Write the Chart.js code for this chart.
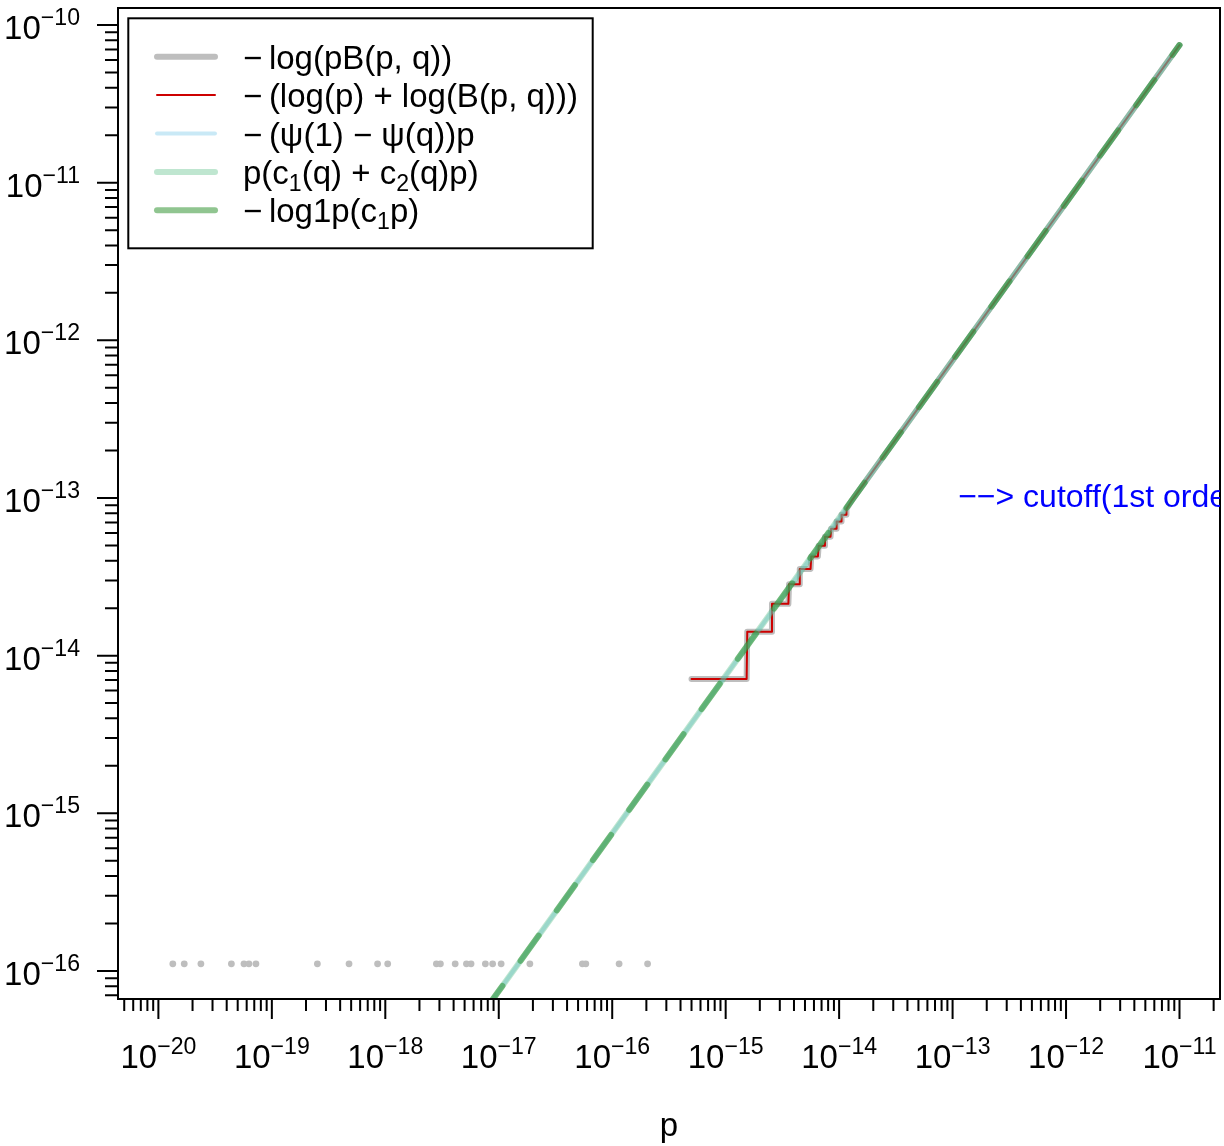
<!DOCTYPE html>
<html>
<head>
<meta charset="utf-8">
<title>log1p cutoff</title>
<script src="https://cdn.jsdelivr.net/npm/chart.js@4.4.1/dist/chart.umd.min.js"></script>
<style>
body { margin: 0; background: #fff; }
#wrap { position: relative; width: 1224px; height: 1146px; }
</style>
</head>
<body>
<div id="wrap"><canvas id="plot"></canvas></div>
<script>
// axis decades (tick labels are 10^e)
var xDecades = [-20, -19, -18, -17, -16, -15, -14, -13, -12, -11];
var yDecades = [-16, -15, -14, -13, -12, -11, -10];
var xLimits = [-20.356, -10.643];   // log10 of the axis ends
var yLimits = [-16.178, -9.892];

// gray isolated values (eps/2) in the lower left
var dotsP = [1.34e-20, 1.69e-20, 2.37e-20, 4.40e-20, 5.68e-20, 6.28e-20, 7.24e-20,
             2.52e-19, 4.79e-19, 8.55e-19, 1.05e-18, 2.82e-18, 3.06e-18, 4.13e-18,
             5.19e-18, 5.70e-18, 7.62e-18, 8.83e-18, 1.05e-17, 1.88e-17, 5.46e-17,
             5.85e-17, 1.15e-16, 2.05e-16];
var dotsY = [1.11e-16, 1.11e-16, 1.11e-16, 1.11e-16, 1.11e-16, 1.11e-16, 1.11e-16,
             1.11e-16, 1.11e-16, 1.11e-16, 1.11e-16, 1.11e-16, 1.11e-16, 1.11e-16,
             1.11e-16, 1.11e-16, 1.11e-16, 1.11e-16, 1.11e-16, 1.11e-16, 1.11e-16,
             1.11e-16, 1.11e-16, 1.11e-16];

// -log(pB(p,q)) and -(log(p)+log(B(p,q))): staircase then straight
var stepP = [5.0e-16, 1.53e-15, 1.55e-15, 2.52e-15, 2.56e-15, 3.57e-15, 3.62e-15,
             4.45e-15, 4.50e-15, 5.60e-15, 5.68e-15, 6.5e-15, 6.6e-15, 7.4e-15,
             7.5e-15, 8.4e-15, 8.5e-15, 9.4e-15, 9.5e-15, 1.04e-14, 1.05e-14,
             1.15e-14, 1.16e-14, 1.3e-14, 1e-13, 1e-12, 1e-11];
var stepY = [7.1e-15, 7.1e-15, 1.42e-14, 1.42e-14, 2.13e-14, 2.13e-14, 2.84e-14,
             2.84e-14, 3.55e-14, 3.55e-14, 4.26e-14, 4.26e-14, 4.97e-14, 4.97e-14,
             5.68e-14, 5.68e-14, 6.39e-14, 6.39e-14, 7.1e-14, 7.1e-14, 7.82e-14,
             7.82e-14, 8.53e-14, 9.7e-14, 7.46e-13, 7.46e-12, 7.46e-11];

// first order approximations (straight line c1*p)
var lineP = [1e-20, 1e-17, 1e-14, 1e-11];
var lineY = [7.46e-20, 7.46e-17, 7.46e-14, 7.46e-11];

var cutoffP = 1.12e-13;
var cutoffY = 1e-13;
var cutoffText = '\u2212\u2212> cutoff(1st order)';

// legend rows: [text, subscript?]
var legendRows = [
  [['\u2212\u2009log(pB(p, q))', 0]],
  [['\u2212\u2009(log(p) + log(B(p, q)))', 0]],
  [['\u2212\u2009(\u03c8(1) \u2212 \u03c8(q))p', 0]],
  [['p(c', 0], ['1', 1], ['(q) + c', 0], ['2', 1], ['(q)p)', 0]],
  [['\u2212\u2009log1p(c', 0], ['1', 1], ['p)', 0]]
];

var FONT = '"Liberation Sans", Arial, Helvetica, sans-serif';
var colGray = '#bebebe', colRed = '#cd0000', colBlue = 'rgba(135,206,235,0.45)';
var colLtGreen = 'rgba(60,179,113,0.33)', colGreen = 'rgba(34,139,34,0.5)';

function pts(xs, ys) {
  var out = [];
  for (var i = 0; i < xs.length; i++) out.push({x: xs[i], y: ys[i]});
  return out;
}

var legendStyles = [
  {color: colGray, width: 6},
  {color: colRed, width: 2},
  {color: colBlue, width: 4},
  {color: colLtGreen, width: 6},
  {color: colGreen, width: 6}
];

function drawMixed(c, segs, x, y, size) {
  for (var i = 0; i < segs.length; i++) {
    var sub = segs[i][1];
    c.font = (sub ? size * 0.7 : size) + 'px ' + FONT;
    c.fillText(segs[i][0], x, sub ? y + 7 : y);
    x += c.measureText(segs[i][0]).width;
  }
}

function powLabel(c, e, x, y, align, size) {
  var base = '10', sup = '\u2212' + Math.abs(e);
  c.font = size + 'px ' + FONT;
  var w1 = c.measureText(base).width;
  c.font = (size * 0.7) + 'px ' + FONT;
  var w2 = c.measureText(sup).width;
  var x0 = align == 'center' ? x - (w1 + w2) / 2 : x - (w1 + w2);
  c.textAlign = 'left';
  c.textBaseline = 'alphabetic';
  c.font = size + 'px ' + FONT;
  c.fillText(base, x0, y);
  c.font = (size * 0.7) + 'px ' + FONT;
  c.fillText(sup, x0 + w1, y - 14);
}

var rStyle = {
  id: 'rStyle',
  afterDraw: function(chart) {
    var c = chart.ctx, a = chart.chartArea, xs = chart.scales.x, ys = chart.scales.y;
    var i, k, m, v, p;
    c.save();
    c.strokeStyle = '#000';
    c.fillStyle = '#000';
    c.lineWidth = 2;
    c.strokeRect(a.left, a.top, a.right - a.left, a.bottom - a.top);

    // ticks, 1..9 per decade
    c.beginPath();
    for (k = Math.floor(xLimits[0]); k <= Math.ceil(xLimits[1]); k++) {
      for (m = 1; m <= 9; m++) {
        v = m * Math.pow(10, k);
        if (Math.log10(v) < xLimits[0] || Math.log10(v) > xLimits[1]) continue;
        p = xs.getPixelForValue(v);
        c.moveTo(p, a.bottom);
        c.lineTo(p, a.bottom + (m == 1 ? 20 : 12));
      }
    }
    for (k = Math.floor(yLimits[0]); k <= Math.ceil(yLimits[1]); k++) {
      for (m = 1; m <= 9; m++) {
        v = m * Math.pow(10, k);
        if (Math.log10(v) < yLimits[0] || Math.log10(v) > yLimits[1]) continue;
        p = ys.getPixelForValue(v);
        c.moveTo(a.left, p);
        c.lineTo(a.left - (m == 1 ? 21 : 13), p);
      }
    }
    c.stroke();

    for (i = 0; i < xDecades.length; i++)
      powLabel(c, xDecades[i], xs.getPixelForValue(Math.pow(10, xDecades[i])), 1068, 'center', 33);
    for (i = 0; i < yDecades.length; i++)
      powLabel(c, yDecades[i], 80, ys.getPixelForValue(Math.pow(10, yDecades[i])) + 14, 'right', 33);

    c.font = '33px ' + FONT;
    c.textAlign = 'center';
    c.fillText('p', (a.left + a.right) / 2, 1136);

    // blue note, clipped to the plot region
    c.save();
    c.beginPath();
    c.rect(a.left, a.top, a.right - a.left, a.bottom - a.top);
    c.clip();
    c.fillStyle = '#0000ff';
    c.textAlign = 'left';
    c.textBaseline = 'middle';
    c.font = '32px ' + FONT;
    c.fillText(cutoffText, xs.getPixelForValue(cutoffP), ys.getPixelForValue(cutoffY));
    c.restore();

    // legend
    c.fillStyle = '#fff';
    c.fillRect(128, 18, 465, 230);
    c.lineWidth = 2;
    c.strokeStyle = '#000';
    c.strokeRect(128.3, 18.3, 464.4, 230);
    c.lineCap = 'round';
    for (i = 0; i < legendRows.length; i++) {
      var ly = 56.7 + i * 38.4;
      c.strokeStyle = legendStyles[i].color;
      c.lineWidth = legendStyles[i].width;
      c.beginPath();
      c.moveTo(157, ly);
      c.lineTo(215, ly);
      c.stroke();
      c.fillStyle = '#000';
      c.textAlign = 'left';
      c.textBaseline = 'alphabetic';
      drawMixed(c, legendRows[i], 243, ly + 12, 33);
    }
    c.restore();
  }
};

function lineSet(label, xs, ys, color, width, order, dash) {
  return {
    label: label,
    data: pts(xs, ys),
    showLine: true,
    borderColor: color,
    borderWidth: width,
    borderDash: dash || [],
    borderCapStyle: 'round',
    borderJoinStyle: 'round',
    pointRadius: 0,
    fill: false,
    clip: 0,
    order: order
  };
}

var ctx = document.getElementById('plot').getContext('2d');
var chart = new Chart(ctx, {
  type: 'scatter',
  data: {
    datasets: [
      {
        label: 'eps',
        data: pts(dotsP, dotsY),
        showLine: false,
        pointRadius: 3.4,
        pointBorderWidth: 0,
        pointBackgroundColor: colGray,
        clip: 0,
        order: 6
      },
      lineSet('-log(pB(p,q))', stepP, stepY, colGray, 6, 5),
      lineSet('-(log(p)+log(B(p,q)))', stepP, stepY, colRed, 2, 4),
      lineSet('-(psi(1)-psi(q))p', lineP, lineY, colBlue, 4, 3),
      lineSet('p(c1(q)+c2(q)p)', lineP, lineY, colLtGreen, 6, 2),
      lineSet('-log1p(c1 p)', lineP, lineY, colGreen, 6, 1, [31, 31])
    ]
  },
  options: {
    responsive: true,
    maintainAspectRatio: false,
    animation: false,
    layout: { padding: { top: 8, right: 2, left: 0, bottom: 0 } },
    plugins: { legend: { display: false }, tooltip: { enabled: false } },
    scales: {
      x: {
        type: 'logarithmic',
        min: Math.pow(10, xLimits[0]),
        max: Math.pow(10, xLimits[1]),
        ticks: { display: false },
        grid: { display: false },
        border: { display: false },
        afterFit: function(s) { s.height = 147; }
      },
      y: {
        type: 'logarithmic',
        min: Math.pow(10, yLimits[0]),
        max: Math.pow(10, yLimits[1]),
        ticks: { display: false },
        grid: { display: false },
        border: { display: false },
        afterFit: function(s) { s.width = 118; }
      }
    }
  },
  plugins: [rStyle]
});
</script>
</body>
</html>
